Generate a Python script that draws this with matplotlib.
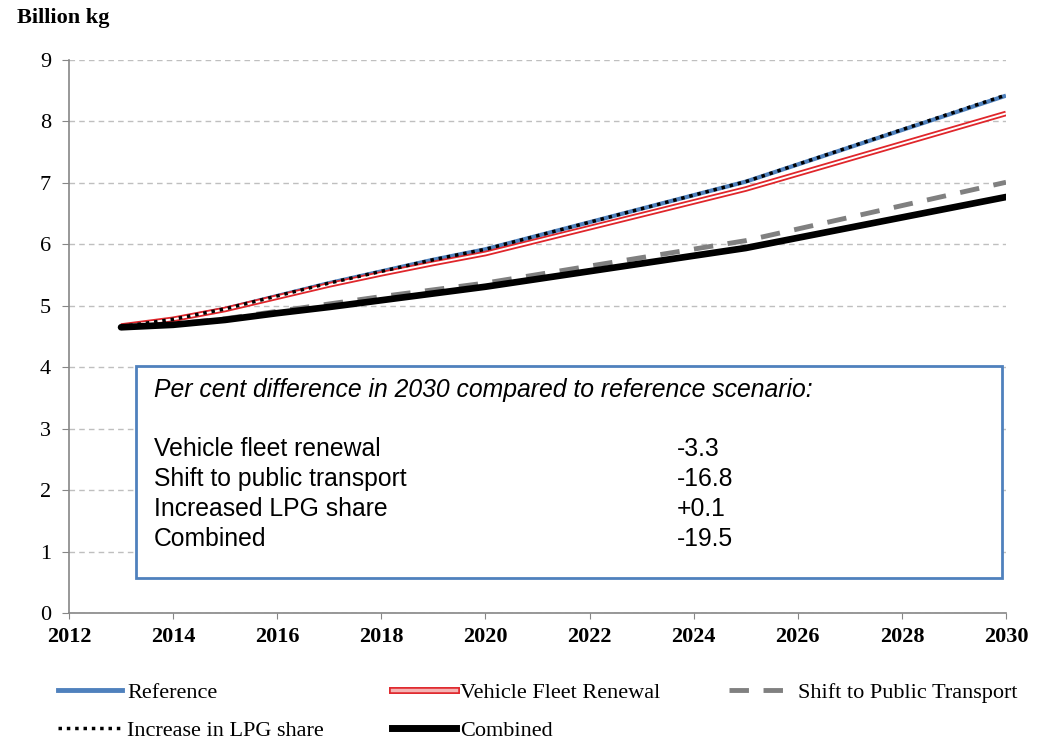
import matplotlib
matplotlib.use("Agg")
import matplotlib.pyplot as plt
from matplotlib.lines import Line2D
from matplotlib.patches import Rectangle
from matplotlib.legend_handler import HandlerTuple

# data (billion kg)
years = [2013, 2014, 2015, 2016, 2017, 2018, 2019, 2020, 2025, 2030]
reference = [4.66, 4.78, 4.95, 5.16, 5.37, 5.56, 5.75, 5.92, 7.02, 8.42]
fleet_renewal = [4.67, 4.78, 4.94, 5.14, 5.34, 5.52, 5.69, 5.85, 6.90, 8.13]
public_transport = [4.65, 4.70, 4.79, 4.91, 5.03, 5.15, 5.26, 5.37, 6.06, 7.01]
lpg_share = [4.66, 4.78, 4.95, 5.16, 5.37, 5.56, 5.75, 5.92, 7.02, 8.43]
combined = [4.65, 4.69, 4.77, 4.88, 4.98, 5.09, 5.20, 5.31, 5.94, 6.77]

xticks = list(range(2012, 2031, 2))
yticks = list(range(0, 10))

box_title = "Per cent difference in 2030 compared to reference scenario:"
box_labels = ["Vehicle fleet renewal", "Shift to public transport", "Increased LPG share", "Combined"]
box_values = ["-3.3", "-16.8", "+0.1", "-19.5"]

serif = "Liberation Serif"
sans = "Liberation Sans"
blue = "#4F81BD"
red = "#E0262B"
grey = "#808080"

fig = plt.figure(figsize=(10.41, 7.40), dpi=100)
ax = fig.add_axes([69/1041, 1-613/740, 937/1041, 553/740])

ax.plot(years, reference, color=blue, lw=3, zorder=3, solid_capstyle="butt")
ax.plot(years, fleet_renewal, color=red, lw=4, zorder=4, solid_capstyle="butt")
ax.plot(years, fleet_renewal, color="white", lw=1.4, zorder=4, solid_capstyle="butt")
ax.plot(years, public_transport, color=grey, lw=3.5, ls=(0, (4, 3)), zorder=3)
ax.plot(years, lpg_share, color="black", lw=2.5, ls=(0, (1, 1.4)), zorder=5)
ax.plot(years, combined, color="black", lw=4.8, zorder=6, solid_capstyle="round")

ax.set_xlim(2012, 2030)
ax.set_ylim(0, 9)
ax.set_xticks(xticks)
ax.set_yticks(yticks)
ax.set_xticklabels([str(x) for x in xticks], fontfamily=serif, fontweight="bold", fontsize=16)
ax.set_yticklabels([str(y) for y in yticks], fontfamily=serif, fontsize=16)
ax.tick_params(axis="y", length=5, pad=8, color="#868686")
ax.tick_params(axis="x", length=4, pad=6, color="#868686")
ax.grid(axis="y", color="#BFBFBF", lw=1, ls=(0, (4, 3)))
ax.set_axisbelow(True)
for s in ["top", "right"]:
    ax.spines[s].set_visible(False)
for s in ["left", "bottom"]:
    ax.spines[s].set_color("#868686")
    ax.spines[s].set_linewidth(1.2)

fig.text(17/1041, 1-18/740, "Billion kg", fontfamily=serif, fontweight="bold",
         fontsize=16, ha="left", va="center")

# text box
ax.add_patch(Rectangle((0.0715, 0.0633), 0.9242, 0.3834, transform=ax.transAxes,
                       fill=True, facecolor="white", edgecolor=blue, lw=2, zorder=7))
ax.text(0.0907, 0.4033, box_title, transform=ax.transAxes, fontfamily=sans,
        fontstyle="italic", fontsize=17.8, va="center", ha="left", zorder=8)
for i, (lab, val) in enumerate(zip(box_labels, box_values)):
    yy = 0.2966 - i * 0.0543
    ax.text(0.0907, yy, lab, transform=ax.transAxes, fontfamily=sans,
            fontsize=17.8, va="center", ha="left", zorder=8)
    ax.text(0.6489, yy, val, transform=ax.transAxes, fontfamily=sans,
            fontsize=17.8, va="center", ha="left", zorder=8)

# legend
h_ref = Line2D([], [], color=blue, lw=3.5)
h_lpg = Line2D([], [], color="black", lw=2.5, ls=(0, (1, 1.4)))
h_vfr = (Line2D([], [], color=red, lw=5), Line2D([], [], color="#F4B4B4", lw=2.5))
h_comb = Line2D([], [], color="black", lw=5)
h_shift = Line2D([], [], color=grey, lw=3.5, ls=(0, (4, 3)))
fig.legend([h_ref, h_lpg, h_vfr, h_comb, h_shift],
           ["Reference", "Increase in LPG share", "Vehicle Fleet Renewal", "Combined",
            "Shift to Public Transport"],
           handler_map={tuple: HandlerTuple(ndivide=1)},
           ncol=3, mode="expand", loc="upper left",
           bbox_to_anchor=(58/1041, 0, 959/1041, 1-682/740),
           frameon=False, borderpad=0, borderaxespad=0, handlelength=2.9,
           handletextpad=0.2, labelspacing=0.8,
           prop={"family": serif, "size": 16})

fig.savefig("out.png", dpi=100)
